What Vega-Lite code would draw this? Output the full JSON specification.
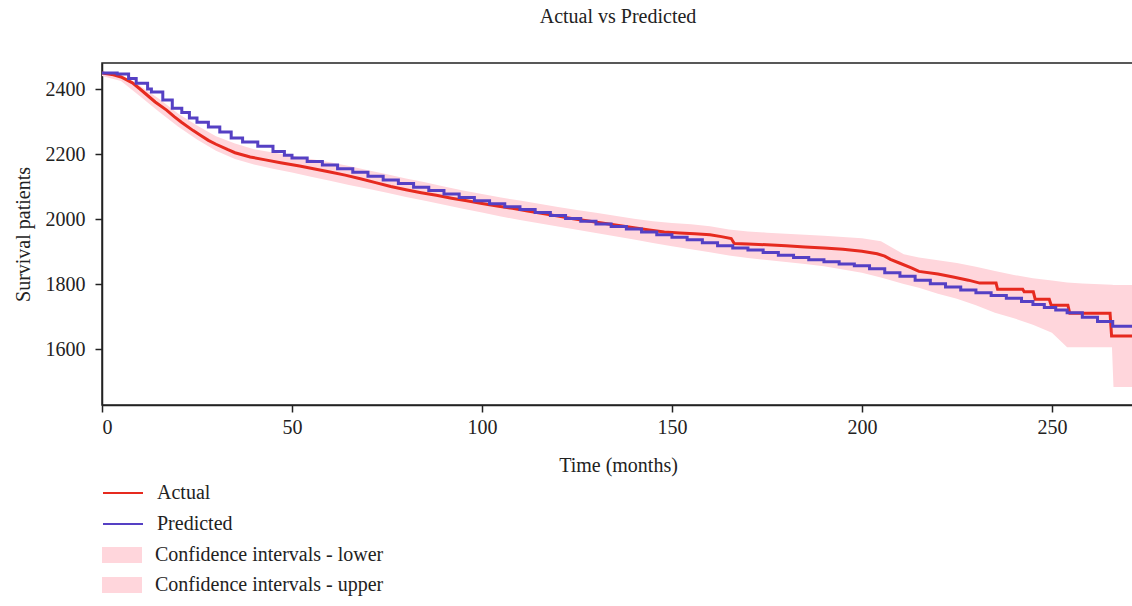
{
  "$schema": "https://vega.github.io/schema/vega-lite/v6.json",
  "width": 1032,
  "height": 342,
  "autosize": {"type": "none"},
  "padding": {"left": 102, "top": 63, "right": 0, "bottom": 201},
  "background": "white",
  "config": {
    "font": "Liberation Serif",
    "view": {"stroke": "#222", "strokeWidth": 1.5},
    "axis": {
      "grid": false, "domainColor": "#222", "domainWidth": 1.5, "tickColor": "#222", "tickWidth": 1.5, "tickSize": 7,
      "labelFont": "Liberation Serif", "labelFontSize": 20, "labelColor": "#222",
      "titleFont": "Liberation Serif", "titleFontSize": 20, "titleFontWeight": "normal", "titleColor": "#222"
    },
    "legend": {"labelFont": "Liberation Serif", "labelFontSize": 20, "labelColor": "#222", "labelLimit": 400}
  },
  "title": {"text": "Actual vs Predicted", "font": "Liberation Serif", "fontSize": 20, "fontWeight": "normal", "color": "#222", "anchor": "middle", "offset": 36},
  "datasets": {
    "band": [
      {"t": 0, "lower": 2440, "upper": 2452},
      {"t": 5, "lower": 2425, "upper": 2445},
      {"t": 10, "lower": 2378, "upper": 2410},
      {"t": 15, "lower": 2330, "upper": 2370},
      {"t": 20, "lower": 2285, "upper": 2325},
      {"t": 25, "lower": 2245, "upper": 2288},
      {"t": 30, "lower": 2210, "upper": 2255},
      {"t": 35, "lower": 2185, "upper": 2232},
      {"t": 40, "lower": 2168, "upper": 2215},
      {"t": 45, "lower": 2155, "upper": 2205},
      {"t": 50, "lower": 2143, "upper": 2195},
      {"t": 55, "lower": 2130, "upper": 2185},
      {"t": 60, "lower": 2118, "upper": 2175},
      {"t": 65, "lower": 2105, "upper": 2163},
      {"t": 70, "lower": 2093, "upper": 2150},
      {"t": 75, "lower": 2081, "upper": 2138},
      {"t": 80, "lower": 2068, "upper": 2125},
      {"t": 85, "lower": 2056, "upper": 2113},
      {"t": 90, "lower": 2044, "upper": 2100},
      {"t": 95, "lower": 2032, "upper": 2088},
      {"t": 100, "lower": 2020, "upper": 2077},
      {"t": 105, "lower": 2008, "upper": 2066},
      {"t": 110, "lower": 1997, "upper": 2057},
      {"t": 115, "lower": 1987, "upper": 2047},
      {"t": 120, "lower": 1977, "upper": 2037},
      {"t": 125, "lower": 1967, "upper": 2028},
      {"t": 130, "lower": 1957, "upper": 2019},
      {"t": 135, "lower": 1947, "upper": 2010},
      {"t": 140, "lower": 1937, "upper": 2001},
      {"t": 145, "lower": 1926, "upper": 1993},
      {"t": 150, "lower": 1916, "upper": 1988},
      {"t": 155, "lower": 1907, "upper": 1984},
      {"t": 160, "lower": 1898, "upper": 1978},
      {"t": 165, "lower": 1888, "upper": 1968},
      {"t": 170, "lower": 1880, "upper": 1962},
      {"t": 175, "lower": 1874, "upper": 1958},
      {"t": 180, "lower": 1868, "upper": 1955},
      {"t": 185, "lower": 1862, "upper": 1952},
      {"t": 190, "lower": 1855, "upper": 1949},
      {"t": 195, "lower": 1845, "upper": 1945},
      {"t": 200, "lower": 1835, "upper": 1941},
      {"t": 205, "lower": 1820, "upper": 1932},
      {"t": 208, "lower": 1810, "upper": 1912},
      {"t": 211, "lower": 1800, "upper": 1892},
      {"t": 215, "lower": 1789, "upper": 1882},
      {"t": 220, "lower": 1770, "upper": 1873},
      {"t": 225, "lower": 1755, "upper": 1865},
      {"t": 230, "lower": 1735, "upper": 1853},
      {"t": 235, "lower": 1712, "upper": 1840},
      {"t": 240, "lower": 1695, "upper": 1828},
      {"t": 245, "lower": 1675, "upper": 1818},
      {"t": 250, "lower": 1650, "upper": 1811},
      {"t": 254, "lower": 1606, "upper": 1805},
      {"t": 258, "lower": 1606, "upper": 1802},
      {"t": 265.8, "lower": 1606, "upper": 1798},
      {"t": 266.2, "lower": 1483, "upper": 1797},
      {"t": 271.6, "lower": 1483, "upper": 1797}
    ],
    "actual": [
      {"s": "Actual", "t": 0, "v": 2449},
      {"s": "Actual", "t": 3, "v": 2444},
      {"s": "Actual", "t": 5, "v": 2437},
      {"s": "Actual", "t": 8, "v": 2419},
      {"s": "Actual", "t": 10, "v": 2400},
      {"s": "Actual", "t": 12, "v": 2380},
      {"s": "Actual", "t": 14, "v": 2360},
      {"s": "Actual", "t": 17, "v": 2335},
      {"s": "Actual", "t": 19, "v": 2315},
      {"s": "Actual", "t": 21, "v": 2297},
      {"s": "Actual", "t": 24, "v": 2272},
      {"s": "Actual", "t": 26, "v": 2257},
      {"s": "Actual", "t": 28, "v": 2242},
      {"s": "Actual", "t": 30, "v": 2230},
      {"s": "Actual", "t": 33, "v": 2214},
      {"s": "Actual", "t": 35, "v": 2204},
      {"s": "Actual", "t": 39, "v": 2191},
      {"s": "Actual", "t": 43, "v": 2182},
      {"s": "Actual", "t": 47, "v": 2173},
      {"s": "Actual", "t": 52, "v": 2163},
      {"s": "Actual", "t": 56, "v": 2154},
      {"s": "Actual", "t": 60, "v": 2145},
      {"s": "Actual", "t": 64, "v": 2135},
      {"s": "Actual", "t": 68, "v": 2124},
      {"s": "Actual", "t": 72, "v": 2112},
      {"s": "Actual", "t": 76, "v": 2100},
      {"s": "Actual", "t": 80, "v": 2090},
      {"s": "Actual", "t": 84, "v": 2081},
      {"s": "Actual", "t": 88, "v": 2073},
      {"s": "Actual", "t": 92, "v": 2064},
      {"s": "Actual", "t": 96, "v": 2056},
      {"s": "Actual", "t": 100, "v": 2048},
      {"s": "Actual", "t": 104, "v": 2040},
      {"s": "Actual", "t": 108, "v": 2033},
      {"s": "Actual", "t": 112, "v": 2025},
      {"s": "Actual", "t": 116, "v": 2017},
      {"s": "Actual", "t": 120, "v": 2009},
      {"s": "Actual", "t": 124, "v": 2001},
      {"s": "Actual", "t": 128, "v": 1994},
      {"s": "Actual", "t": 132, "v": 1987},
      {"s": "Actual", "t": 136, "v": 1980},
      {"s": "Actual", "t": 140, "v": 1973},
      {"s": "Actual", "t": 144, "v": 1966},
      {"s": "Actual", "t": 148, "v": 1960},
      {"s": "Actual", "t": 152, "v": 1957},
      {"s": "Actual", "t": 156, "v": 1955},
      {"s": "Actual", "t": 160, "v": 1952},
      {"s": "Actual", "t": 163, "v": 1946},
      {"s": "Actual", "t": 165.6, "v": 1940},
      {"s": "Actual", "t": 166.4, "v": 1925},
      {"s": "Actual", "t": 170, "v": 1923},
      {"s": "Actual", "t": 175, "v": 1921},
      {"s": "Actual", "t": 180, "v": 1918},
      {"s": "Actual", "t": 185, "v": 1914},
      {"s": "Actual", "t": 190, "v": 1911},
      {"s": "Actual", "t": 195, "v": 1907},
      {"s": "Actual", "t": 200, "v": 1901},
      {"s": "Actual", "t": 204, "v": 1893},
      {"s": "Actual", "t": 206, "v": 1886},
      {"s": "Actual", "t": 207.5, "v": 1876},
      {"s": "Actual", "t": 210, "v": 1864},
      {"s": "Actual", "t": 213, "v": 1850},
      {"s": "Actual", "t": 215, "v": 1839},
      {"s": "Actual", "t": 220, "v": 1831},
      {"s": "Actual", "t": 224, "v": 1822},
      {"s": "Actual", "t": 228, "v": 1812},
      {"s": "Actual", "t": 231, "v": 1803},
      {"s": "Actual", "t": 235.3, "v": 1803},
      {"s": "Actual", "t": 235.7, "v": 1784},
      {"s": "Actual", "t": 242.3, "v": 1784},
      {"s": "Actual", "t": 242.7, "v": 1776},
      {"s": "Actual", "t": 245.1, "v": 1776},
      {"s": "Actual", "t": 245.6, "v": 1753},
      {"s": "Actual", "t": 249.3, "v": 1753},
      {"s": "Actual", "t": 249.8, "v": 1735},
      {"s": "Actual", "t": 254.2, "v": 1735},
      {"s": "Actual", "t": 254.7, "v": 1710},
      {"s": "Actual", "t": 265.3, "v": 1710},
      {"s": "Actual", "t": 265.7, "v": 1640},
      {"s": "Actual", "t": 271.6, "v": 1640}
    ],
    "predicted": [
      {"s": "Predicted", "t": 0, "v": 2449},
      {"s": "Predicted", "t": 4, "v": 2446},
      {"s": "Predicted", "t": 7, "v": 2432},
      {"s": "Predicted", "t": 9, "v": 2418},
      {"s": "Predicted", "t": 12, "v": 2400},
      {"s": "Predicted", "t": 13, "v": 2391},
      {"s": "Predicted", "t": 16, "v": 2366},
      {"s": "Predicted", "t": 18.5, "v": 2341},
      {"s": "Predicted", "t": 21, "v": 2328},
      {"s": "Predicted", "t": 23, "v": 2311},
      {"s": "Predicted", "t": 25, "v": 2298},
      {"s": "Predicted", "t": 28, "v": 2283},
      {"s": "Predicted", "t": 31, "v": 2268},
      {"s": "Predicted", "t": 34, "v": 2249},
      {"s": "Predicted", "t": 37, "v": 2237},
      {"s": "Predicted", "t": 41, "v": 2224},
      {"s": "Predicted", "t": 45, "v": 2208},
      {"s": "Predicted", "t": 48, "v": 2196},
      {"s": "Predicted", "t": 50, "v": 2188},
      {"s": "Predicted", "t": 54, "v": 2177},
      {"s": "Predicted", "t": 58, "v": 2166},
      {"s": "Predicted", "t": 62, "v": 2155},
      {"s": "Predicted", "t": 66, "v": 2144},
      {"s": "Predicted", "t": 70, "v": 2132},
      {"s": "Predicted", "t": 74, "v": 2120},
      {"s": "Predicted", "t": 78, "v": 2109},
      {"s": "Predicted", "t": 82, "v": 2098},
      {"s": "Predicted", "t": 86, "v": 2088},
      {"s": "Predicted", "t": 90, "v": 2077},
      {"s": "Predicted", "t": 94, "v": 2066},
      {"s": "Predicted", "t": 98, "v": 2056},
      {"s": "Predicted", "t": 102, "v": 2047},
      {"s": "Predicted", "t": 106, "v": 2038},
      {"s": "Predicted", "t": 110, "v": 2029},
      {"s": "Predicted", "t": 114, "v": 2020},
      {"s": "Predicted", "t": 118, "v": 2011},
      {"s": "Predicted", "t": 122, "v": 2002},
      {"s": "Predicted", "t": 126, "v": 1993},
      {"s": "Predicted", "t": 130, "v": 1985},
      {"s": "Predicted", "t": 134, "v": 1977},
      {"s": "Predicted", "t": 138, "v": 1969},
      {"s": "Predicted", "t": 142, "v": 1960},
      {"s": "Predicted", "t": 146, "v": 1952},
      {"s": "Predicted", "t": 150, "v": 1944},
      {"s": "Predicted", "t": 154, "v": 1936},
      {"s": "Predicted", "t": 158, "v": 1927},
      {"s": "Predicted", "t": 162, "v": 1918},
      {"s": "Predicted", "t": 166, "v": 1911},
      {"s": "Predicted", "t": 170, "v": 1905},
      {"s": "Predicted", "t": 174, "v": 1897},
      {"s": "Predicted", "t": 178, "v": 1889},
      {"s": "Predicted", "t": 182, "v": 1882},
      {"s": "Predicted", "t": 186, "v": 1875},
      {"s": "Predicted", "t": 190, "v": 1869},
      {"s": "Predicted", "t": 194, "v": 1862},
      {"s": "Predicted", "t": 198, "v": 1856},
      {"s": "Predicted", "t": 202, "v": 1847},
      {"s": "Predicted", "t": 206, "v": 1835},
      {"s": "Predicted", "t": 210, "v": 1824},
      {"s": "Predicted", "t": 214, "v": 1812},
      {"s": "Predicted", "t": 218, "v": 1801},
      {"s": "Predicted", "t": 222, "v": 1791},
      {"s": "Predicted", "t": 226, "v": 1782},
      {"s": "Predicted", "t": 230, "v": 1773},
      {"s": "Predicted", "t": 234, "v": 1765},
      {"s": "Predicted", "t": 238, "v": 1756},
      {"s": "Predicted", "t": 242, "v": 1746},
      {"s": "Predicted", "t": 245, "v": 1737},
      {"s": "Predicted", "t": 248, "v": 1728},
      {"s": "Predicted", "t": 251, "v": 1720},
      {"s": "Predicted", "t": 254, "v": 1712},
      {"s": "Predicted", "t": 258, "v": 1698},
      {"s": "Predicted", "t": 262, "v": 1685},
      {"s": "Predicted", "t": 266, "v": 1670},
      {"s": "Predicted", "t": 271.6, "v": 1665}
    ]
  },
  "layer": [
    {
      "data": {"name": "band"},
      "mark": {"type": "area", "interpolate": "linear", "clip": true, "opacity": 1},
      "encoding": {
        "x": {"field": "t", "type": "quantitative", "scale": {"domain": [0, 271.6], "nice": false, "zero": false},
              "axis": {"title": "Time (months)", "values": [0, 50, 100, 150, 200, 250], "labelPadding": 5, "titlePadding": 18}},
        "y": {"field": "lower", "type": "quantitative", "scale": {"domain": [1428, 2480], "nice": false, "zero": false},
              "axis": {"title": "Survival patients", "values": [1600, 1800, 2000, 2200, 2400], "format": "d", "labelPadding": 10, "titlePadding": 12}},
        "y2": {"field": "upper"},
        "fill": {
          "datum": "Confidence intervals - lower", "type": "nominal",
          "scale": {"domain": ["Confidence intervals - lower", "Confidence intervals - upper"], "range": ["#ffd6dc", "#ffd6dc"]},
          "legend": {"title": null, "orient": "none", "legendX": 0, "legendY": 472, "direction": "vertical",
                     "symbolType": "M-1,-0.4H1V0.4H-1Z", "symbolSize": 1600, "symbolStrokeWidth": 0, "labelOffset": 13, "rowPadding": -9}
        }
      }
    },
    {
      "data": {"name": "actual"},
      "mark": {"type": "line", "interpolate": "linear", "strokeWidth": 3, "clip": true},
      "encoding": {
        "x": {"field": "t", "type": "quantitative", "title": "Time (months)"},
        "y": {"field": "v", "type": "quantitative", "title": "Survival patients"},
        "color": {
          "field": "s", "type": "nominal",
          "scale": {"domain": ["Actual", "Predicted"], "range": ["#e62a1f", "#5540c4"]},
          "legend": {"title": null, "orient": "none", "legendX": 0, "legendY": 409, "direction": "vertical",
                     "symbolType": "stroke", "symbolSize": 1600, "symbolStrokeWidth": 2, "labelOffset": 13, "rowPadding": -9}
        }
      }
    },
    {
      "data": {"name": "predicted"},
      "mark": {"type": "line", "interpolate": "step-after", "strokeWidth": 3, "clip": true},
      "encoding": {
        "x": {"field": "t", "type": "quantitative", "title": "Time (months)"},
        "y": {"field": "v", "type": "quantitative", "title": "Survival patients"},
        "color": {"field": "s", "type": "nominal"}
      }
    }
  ]
}
